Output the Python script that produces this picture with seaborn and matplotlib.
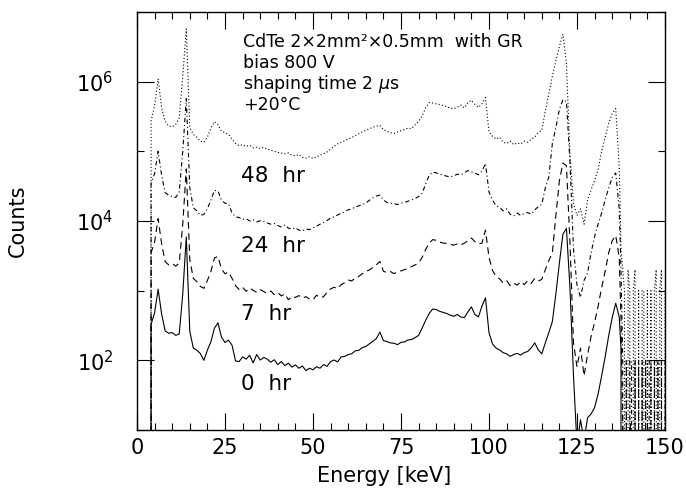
import numpy as np
import pandas as pd
import matplotlib
matplotlib.use("Agg")
import matplotlib.pyplot as plt
import seaborn as sns
from matplotlib.ticker import FixedLocator, MultipleLocator, NullFormatter

# energy bins [keV]: 1 keV steps up to 137, half keV steps in the tail
energy = list(range(0, 138)) + [137.5 + 0.5 * i for i in range(26)]

# counts per bin (before the display offset)
counts_0hr = [
    0, 0, 0, 0, 330, 480, 1050, 460, 265, 245,
    250, 228, 240, 900, 5900, 260, 150, 140, 125, 100,
    140, 185, 290, 345, 215, 180, 195, 165, 98, 96,
    112, 104, 118, 92, 121, 101, 110, 104, 94, 102,
    87, 96, 84, 91, 80, 86, 77, 83, 71, 77,
    73, 81, 77, 87, 82, 96, 101, 95, 112, 114,
    121, 124, 137, 139, 152, 158, 172, 188, 205, 255,
    192, 186, 178, 176, 168, 181, 184, 196, 199, 212,
    228, 290, 375, 470, 545, 535, 505, 488, 470, 445,
    428, 455, 418, 412, 495, 585, 455, 420, 600, 790,
    250, 172, 150, 141, 129, 124, 114, 121, 126, 119,
    129, 134, 151, 178, 141, 124, 178, 250, 360, 900,
    2500, 6500, 7800, 1100, 60, 6, 14, 7, 15, 17,
    21, 33, 60, 112, 225, 410, 660, 420,
    150,
    0, 0, 0, 0, 0, 0, 0, 0, 0, 0, 0, 0, 0, 0, 0, 0, 0, 0, 0, 0, 0, 0, 0, 0, 0,
]
counts_7hr = [
    0, 0, 0, 0, 350, 500, 1080, 470, 260, 235,
    245, 225, 250, 900, 5600, 280, 150, 135, 115, 108,
    140, 190, 295, 310, 205, 175, 185, 150, 118, 104,
    112, 98, 109, 101, 95, 104, 97, 92, 99, 88,
    94, 84, 90, 74, 83, 80, 85, 78, 82, 76,
    74, 86, 79, 82, 95, 106, 112, 108, 122, 130,
    142, 138, 152, 160, 175, 190, 198, 215, 235, 262,
    190, 182, 188, 176, 185, 192, 200, 210, 222, 235,
    248, 300, 390, 480, 540, 528, 500, 482, 476, 462,
    450, 470, 455, 480, 520, 570, 505, 470, 480, 740,
    300, 195, 160, 148, 130, 140, 118, 128, 120, 135,
    122, 140, 128, 150, 138, 145, 200, 270, 350, 1200,
    3800, 6800, 6200, 500, 18, 8, 15, 6, 12, 22,
    35, 60, 110, 190, 350, 520, 620, 300,
    40,
    1, 0, 1, 0, 0, 1, 0, 1, 0, 1, 0, 0, 1, 0, 1, 0, 1, 0, 1, 0, 0, 1, 0, 1, 0,
]
counts_24hr = [
    0, 0, 0, 0, 350, 480, 1000, 450, 255, 235,
    225, 218, 260, 1000, 5700, 300, 155, 140, 120, 125,
    150, 200, 275, 270, 200, 180, 178, 130, 115, 112,
    105, 108, 100, 104, 97, 101, 98, 94, 90, 92,
    86, 82, 88, 79, 76, 80, 74, 72, 77, 75,
    80, 84, 90, 95, 102, 110, 115, 122, 130, 135,
    145, 150, 158, 165, 172, 180, 198, 215, 228, 235,
    200, 185, 180, 178, 172, 180, 185, 192, 200, 210,
    225, 250, 340, 450, 505, 490, 470, 455, 440, 430,
    445, 470, 460, 490, 530, 510, 490, 460, 520, 670,
    260, 200, 165, 158, 140, 150, 125, 118, 130, 120,
    128, 132, 125, 145, 160, 175, 300, 430, 1300, 2200,
    4000, 5500, 5200, 700, 40, 12, 8, 14, 18, 35,
    60, 90, 130, 200, 300, 420, 490, 150,
    20,
    1, 0, 1, 0, 1, 1, 0, 1, 0, 1, 0, 1, 0, 1, 0, 1, 1, 0, 1, 0, 1, 0, 1, 0, 1,
]
counts_48hr = [
    0, 0, 0, 0, 275, 450, 1100, 420, 270, 230,
    225, 245, 300, 1200, 5700, 220, 175, 160, 140, 135,
    160, 215, 265, 240, 195, 185, 175, 150, 130, 120,
    125, 118, 122, 112, 115, 110, 114, 108, 104, 100,
    97, 94, 92, 95, 88, 86, 90, 82, 80, 84,
    79, 83, 88, 92, 98, 108, 118, 128, 135, 142,
    150, 158, 168, 178, 190, 200, 210, 222, 230, 235,
    205, 195, 185, 180, 190, 198, 205, 215, 212, 240,
    270, 320, 420, 500, 495, 480, 470, 455, 440, 415,
    410, 430, 460, 420, 500, 540, 470, 430, 480, 590,
    190, 165, 150, 160, 135, 130, 140, 125, 132, 128,
    140, 135, 150, 160, 185, 200, 380, 680, 1200, 2000,
    3200, 4800, 1800, 90, 18, 12, 15, 9, 20, 28,
    38, 55, 100, 160, 250, 350, 410, 60,
    4,
    2, 1, 0, 2, 1, 0, 1, 2, 0, 1, 0, 1, 1, 0, 1, 0, 1, 0, 1, 2, 0, 1, 2, 0, 1,
]

series_names = ["0 hr", "7 hr", "24 hr", "48 hr"]
series_counts = [counts_0hr, counts_7hr, counts_24hr, counts_48hr]
offsets = [1, 10, 100, 1000]   # curves shifted by a decade each for clarity

x_ticks = [0, 25, 50, 75, 100, 125, 150]
y_ticks = [1e2, 1e4, 1e6]
y_tick_labels = [r"$10^{2}$", r"$10^{4}$", r"$10^{6}$"]

info_lines = ["CdTe 2\u00d72mm\u00b2\u00d70.5mm  with GR", "bias 800 V",
              r"shaping time 2 $\mu$s", "+20\u00b0C"]

sns.set_style("ticks")
plt.rcParams["font.family"] = ["DejaVu Sans"]
plt.rcParams["text.color"] = "black"
plt.rcParams["axes.labelcolor"] = "black"
plt.rcParams["xtick.color"] = "black"
plt.rcParams["ytick.color"] = "black"

fig = plt.figure(figsize=(6.86, 4.97), dpi=100)
ax = fig.add_axes([137 / 686, 67 / 497, 528 / 686, 418 / 497])

styles = ["-", (0, (6, 4)), (0, (4, 2.5, 1, 2.5)), (0, (1, 2))]
for name, counts, off, ls in zip(series_names, series_counts, offsets, styles):
    df = pd.DataFrame({"energy": energy, "counts": np.asarray(counts, float) * off})
    sns.lineplot(data=df, x="energy", y="counts", ax=ax, color="black",
                 lw=0.8, linestyle=ls, estimator=None, sort=False)

ax.set_yscale("log")
ax.set_xlim(0, 150)
ax.set_ylim(10, 1e7)

ax.xaxis.set_major_locator(FixedLocator(x_ticks))
ax.xaxis.set_minor_locator(MultipleLocator(5))
ax.yaxis.set_major_locator(FixedLocator(y_ticks))
ax.yaxis.set_minor_locator(FixedLocator([1e1, 1e3, 1e5, 1e7]))
ax.yaxis.set_minor_formatter(NullFormatter())
ax.set_yticklabels(y_tick_labels)

ax.tick_params(which="both", direction="in", top=True, right=True, width=0.8,
               colors="black", labelcolor="black")
ax.tick_params(which="major", length=12, labelsize=15)
ax.tick_params(which="minor", length=5)
ax.tick_params(axis="x", which="major", pad=6)
ax.tick_params(axis="y", which="major", pad=17)
for sp in ax.spines.values():
    sp.set_linewidth(1.0)
    sp.set_color("black")

ax.set_xlabel("Energy [keV]", fontsize=15, color="black")
ax.xaxis.set_label_coords(0.468, -0.085)
ax.set_ylabel("")
fig.text(18 / 686, 1 - 221 / 497, "Counts", rotation=90, ha="center", va="center",
         fontsize=15, color="black")

for i, line in enumerate(info_lines):
    ax.text(0.2008, 0.916 - 0.05 * i, line, transform=ax.transAxes,
            fontsize=12.5, va="baseline", ha="left", color="black")

label_y = [0.0957, 0.2639, 0.4266, 0.593]
for name, yy in zip(series_names, label_y):
    ax.text(0.197, yy, name.replace(" ", "  "), transform=ax.transAxes,
            fontsize=15.5, va="baseline", ha="left", color="black")

fig.savefig("out.png", dpi=100)
